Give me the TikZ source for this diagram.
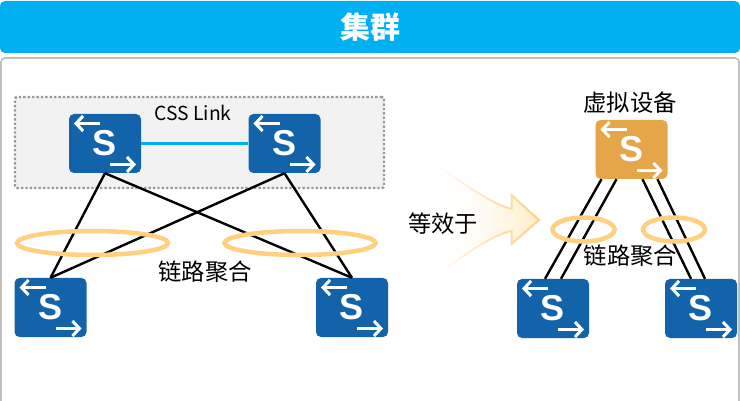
\documentclass[tikz,border=0pt]{standalone}
\usepackage{fontspec}
\setmainfont{Noto Sans CJK SC}
\newfontfamily\iconfont{Liberation Sans}
\usepackage{tikz}
\usetikzlibrary{arrows.meta,positioning,calc,shapes.geometric,fadings}
\definecolor{headblue}{RGB}{0,176,240}
\definecolor{swblue}{RGB}{18,99,170}
\definecolor{sworange}{RGB}{229,166,74}
\definecolor{ringcolor}{RGB}{255,208,127}
\definecolor{panelgray}{RGB}{191,191,191}
\definecolor{stackfill}{RGB}{242,242,242}
\definecolor{arrowfill}{RGB}{255,236,196}
\tikzstyle{swbox} = [rectangle,rounded corners=5pt,minimum width=72pt,minimum height=59pt,inner sep=0,fill=swblue,text=white,font=\iconfont\bfseries\fontsize{36}{36}\selectfont,
  path picture={
    \draw[swarrow] ($(path picture bounding box.center)+(-5,-20)$) -- ++(-26,0);
    \draw[swarrow] ($(path picture bounding box.center)+(5,21)$) -- ++(26,0);
  }]
\tikzstyle{swarrow} = [white,line width=3pt,-{Straight Barb[length=7pt,width=15pt,line width=3pt]}]
\tikzstyle{uplink} = [black,line width=2.4pt]
\tikzstyle{ring} = [ellipse,draw=ringcolor,line width=4.5pt,inner sep=0]
\tikzstyle{caption} = [inner sep=0,font=\fontsize{23.3}{25}\selectfont]

\begin{document}
\begin{tikzpicture}[x=1pt,y=-1pt]
\useasboundingbox (0,0) rectangle (740,401);

% Title bar and panel
\draw[panelgray,line width=1.6pt,rounded corners=4pt] (1,402) -- (1,58) -- (739,58) -- (739,402);
\node[rectangle,rounded corners=5pt,fill=headblue,minimum width=740pt,minimum height=52pt,inner sep=0,text=white,font=\bfseries\fontsize{30}{32}\selectfont] (title) at (370,27) {集群};

% Stack group behind the upper pair
\node[rectangle,draw=gray!80,fill=stackfill,dotted,line width=2.4pt,rounded corners=2pt,minimum width=369pt,minimum height=91pt] (stack) at (199.5,142.5) {};

% Switches of the physical view
\node[swbox] (sw1) at (105,143.5) {S};
\node[swbox] (sw2) at (284.5,143.5) {S};
\node[swbox] (sw3) at (50.5,307.5) {S};
\node[swbox] (sw4) at (352,307.5) {S};

\draw[headblue,line width=2.6pt] (sw1) -- (sw2);
\node[inner sep=0,font=\fontsize{19.3}{21}\selectfont] (csslink) at (193,113) {CSS Link};

% Crossed uplinks
\draw[uplink] (sw1.south) -- (sw3.north);
\draw[uplink] (sw1.south) -- (sw4.north);
\draw[uplink] (sw2.south) -- (sw3.north);
\draw[uplink] (sw2.south) -- (sw4.north);

% Aggregation rings, left side
\node[ring,minimum width=151pt,minimum height=24pt] (ring1) at (92.5,243) {};
\node[ring,minimum width=151pt,minimum height=24pt] (ring2) at (300,243) {};
\node[caption] (agg1) at (205,272) {链路聚合};

% Equivalence arrow
\path[draw=ringcolor,line width=2pt,left color=white,right color=arrowfill,path fading=west]
  (438,167) .. controls (470,187) and (490,203) .. (511.5,209) -- (511.5,195) -- (539,220)
  -- (511.5,244) -- (511.5,231) .. controls (490,236) and (470,252) .. (438,273) -- cycle;
\node[caption] (equal) at (443,224) {等效于};

% Virtual device and its links
\node[swbox,fill=sworange] (vsw) at (631.5,149.5) {S};
\node[swbox] (sw5) at (553,308.5) {S};
\node[swbox] (sw6) at (701,308.5) {S};
\node[caption] (vname) at (630,102.5) {虚拟设备};

\draw[uplink] ([xshift=-30pt]vsw.south) -- ([xshift=-8pt]sw5.north);
\draw[uplink] ([xshift=-15pt]vsw.south) -- ([xshift=8pt]sw5.north);
\draw[uplink] ([xshift=11pt]vsw.south) -- ([xshift=-10pt]sw6.north);
\draw[uplink] ([xshift=26pt]vsw.south) -- ([xshift=4pt]sw6.north);

\node[ring,minimum width=62pt,minimum height=24pt] (ring3) at (583.5,229.5) {};
\node[ring,minimum width=62pt,minimum height=24pt] (ring4) at (674,229.5) {};
\node[caption] (agg2) at (630.5,256) {链路聚合};

\end{tikzpicture}
\end{document}
